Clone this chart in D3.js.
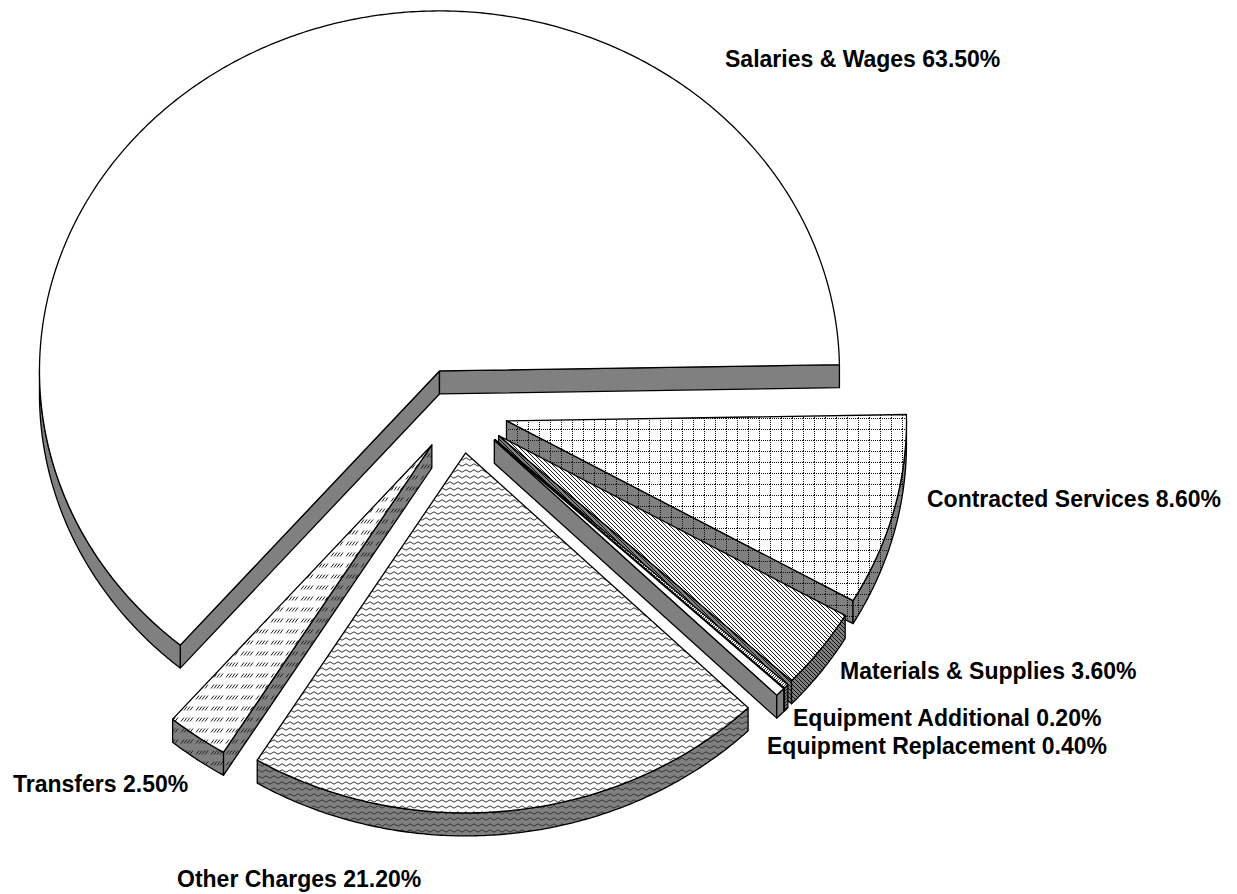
<!DOCTYPE html>
<meta charset="utf-8">
<style>
body { margin: 0; background: #fff; }
.label { font: bold 23px "Liberation Sans", Arial, sans-serif; fill: #000; }
.face { stroke: #000; stroke-width: 1.3; stroke-linejoin: round; }
</style>
<body>
<script src="https://d3js.org/d3.v7.min.js"></script>
<script>

// slice data, in drawing order (clockwise from the back)
var categories = ["Salaries & Wages", "Contracted Services", "Materials & Supplies",
  "Equipment Additional", "Equipment Replacement", "Other Charges", "Transfers"];
var shares = [63.5, 8.6, 3.6, 0.2, 0.4, 21.2, 2.5];
var fills = ["plain", "grid", "hatch", "slash", "blank", "wave", "dash"];

// where Excel put the data labels (left x, baseline y)
var labelPos = [[725, 67], [927, 507], [840, 679], [793, 726], [767, 754], [177, 887], [13, 792]];

var width = 1237, height = 894;
var cx = 460, cy = 410, rx = 400, ry = 360, depth = 23, explode = 48;
var tilt = -1 * Math.PI / 180;   // Salaries ends just above 3 o'clock
var sideGray = "#808080";

var svg = d3.select("body").append("svg")
    .attr("width", width)
    .attr("height", height);

var defs = svg.append("defs");

// patterns: one with white ground for the top, one with gray for the walls
var patternDraw = {
  plain: { size: [4, 4], draw: function(p) {} },
  blank: { size: [4, 4], draw: function(p) {} },
  grid: { size: [11, 11], draw: function(p) {
    for (var i = 0; i < 11; i += 2) {
      p.append("rect").attr("x", i).attr("y", 0).attr("width", 1).attr("height", 1).attr("fill", "#111");
      p.append("rect").attr("x", 0).attr("y", i).attr("width", 1).attr("height", 1).attr("fill", "#111");
    }
  }},
  hatch: { size: [4, 4], draw: function(p) {
    p.append("path").attr("d", "M-1,-1L5,5M3,-1L5,1M-1,3L1,5")
      .attr("stroke", "#000").attr("stroke-width", 0.9);
  }},
  slash: { size: [3, 3], draw: function(p) {
    p.append("path").attr("d", "M-1,4L4,-1M-1,1L1,-1M2,4L4,2")
      .attr("stroke", "#000").attr("stroke-width", 0.8);
  }},
  wave: { size: [8, 6], draw: function(p) {
    p.append("path").attr("d", "M0,3Q2,0.6 4,3T8,3")
      .attr("fill", "none").attr("stroke", "#333").attr("stroke-width", 1);
  }},
  dash: { size: [15, 11], draw: function(p) {
    [1, 4, 7, 10].forEach(function(x) {
      p.append("path").attr("d", "M" + x + ",6.5L" + (x + 3) + ",2.5")
        .attr("stroke", "#222").attr("stroke-width", 1);
    });
  }}
};

Object.keys(patternDraw).forEach(function(k) {
  [["top", "#fff"], ["side", sideGray]].forEach(function(v) {
    var p = defs.append("pattern")
        .attr("id", k + "-" + v[0])
        .attr("patternUnits", "userSpaceOnUse")
        .attr("width", patternDraw[k].size[0])
        .attr("height", patternDraw[k].size[1]);
    p.append("rect")
        .attr("width", patternDraw[k].size[0])
        .attr("height", patternDraw[k].size[1])
        .attr("fill", v[1]);
    patternDraw[k].draw(p);
  });
});

// pie layout: d3 angles run clockwise from 12 o'clock
var start = tilt + Math.PI / 2 - 2 * Math.PI * shares[0] / d3.sum(shares);
var pie = d3.pie().sort(null).startAngle(start).endAngle(start + 2 * Math.PI);
var arcs = pie(shares);

var line = d3.line();

function rim(ox, oy, a, dz) {
  return [ox + rx * Math.cos(a), oy + ry * Math.sin(a) + (dz || 0)];
}

function arcPoints(ox, oy, a0, a1, dz) {
  var n = Math.max(2, Math.ceil((a1 - a0) / (0.5 * Math.PI / 180)));
  return d3.range(n + 1).map(function(i) {
    return rim(ox, oy, a0 + (a1 - a0) * i / n, dz);
  });
}

var g = svg.append("g");

arcs.forEach(function(d, i) {
  var a0 = d.startAngle - Math.PI / 2,
      a1 = d.endAngle - Math.PI / 2,
      mid = (a0 + a1) / 2;
  var ox = cx + explode * Math.cos(mid),
      oy = cy + explode * (ry / rx) * Math.sin(mid);
  var slice = g.append("g").attr("class", "slice");
  var side = "url(#" + fills[i] + "-side)",
      top = "url(#" + fills[i] + "-top)";

  // radial walls that face the viewer
  function radial(a) {
    var p = rim(ox, oy, a);
    slice.append("path").attr("class", "face")
        .attr("fill", side)
        .attr("d", line([[ox, oy], p, [p[0], p[1] + depth], [ox, oy + depth]]) + "Z");
  }
  if (Math.cos(a0) < 0) radial(a0);
  if (Math.cos(a1) > 0) radial(a1);

  // outer wall, only the front half of the ellipse
  for (var k = Math.floor(a0 / (2 * Math.PI)) - 1; k <= Math.floor(a1 / (2 * Math.PI)) + 1; k++) {
    var b0 = Math.max(a0, 2 * Math.PI * k),
        b1 = Math.min(a1, 2 * Math.PI * k + Math.PI);
    if (b1 > b0) {
      var pts = arcPoints(ox, oy, b0, b1, 0)
          .concat(arcPoints(ox, oy, b0, b1, depth).reverse());
      slice.append("path").attr("class", "face")
          .attr("fill", side)
          .attr("d", line(pts) + "Z");
    }
  }

  // top face
  slice.append("path").attr("class", "face")
      .attr("fill", top)
      .attr("d", line([[ox, oy]].concat(arcPoints(ox, oy, a0, a1, 0))) + "Z");
});

// data labels
var fmt = d3.format(".2f");
svg.append("g").selectAll("text")
    .data(categories)
  .enter().append("text")
    .attr("class", "label")
    .attr("x", function(d, i) { return labelPos[i][0]; })
    .attr("y", function(d, i) { return labelPos[i][1]; })
    .text(function(d, i) { return d + " " + fmt(shares[i]) + "%"; });

</script>
